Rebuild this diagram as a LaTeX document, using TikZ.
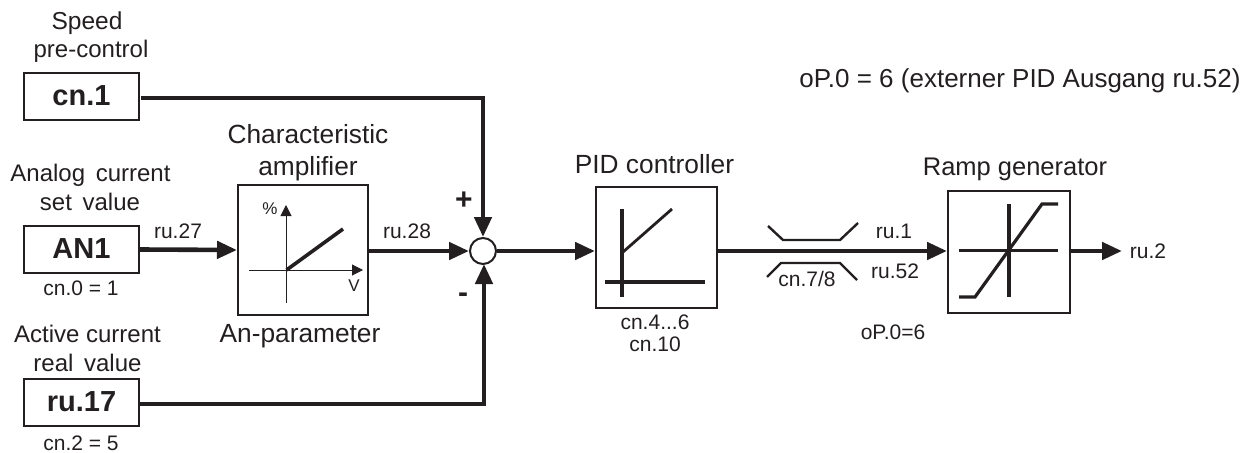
\documentclass[tikz,border=0pt]{standalone}
\usepackage{fontspec}
\setmainfont{Liberation Sans}
\usetikzlibrary{arrows.meta,calc}
\definecolor{ink}{HTML}{231F20}
\tikzset{
  lbl/.style={anchor=base,inner sep=0pt,text=ink,font=\fontsize{#1}{#1}\selectfont},
  lbl/.default=21,
  bold/.style={anchor=base,inner sep=0pt,text=ink,font=\fontsize{#1}{#1}\selectfont\bfseries},
  srcbox/.style={draw=ink,line width=2pt,minimum width=115pt,minimum height=47pt,inner sep=0pt,text=ink,font=\fontsize{29}{29}\selectfont\bfseries},
  fnbox/.style={draw=ink,line width=2pt,minimum size=#1,inner sep=0pt},
  sumnode/.style={draw=ink,line width=2pt,fill=white,circle,minimum size=26pt,inner sep=0pt},
  sig/.style={draw=ink,line width=4.6pt},
  sigarrow/.style={sig,-{Triangle[length=20pt,width=17pt]}},
  thinline/.style={draw=ink,line width=1pt},
  thinarrow/.style={thinline,-{Triangle[length=11pt,width=11pt]}},
  curve/.style={draw=ink,line width=#1,line join=miter},
}
\begin{document}
\begin{tikzpicture}[x=1pt,y=-1pt]
\useasboundingbox (0,0) rectangle (1246,452);
% source boxes
\node[srcbox] (cn1) at (81.5,96) {\raisebox{1pt}{cn.1}};
\node[srcbox] (an1) at (81.5,249.5) {\raisebox{2pt}{AN1}};
\node[srcbox] (ru17) at (81.5,402) {\raisebox{1.5pt}{ru.17}};
% function blocks
\node[fnbox=130pt] (amp) at (303,250) {};
\node[fnbox=121pt] (pid) at (656.5,247.5) {};
\node[fnbox=122pt] (ramp) at (1009,251.5) {};
\node[sumnode] (sum) at (483,251) {};
% coordinates
\coordinate (topcorner) at (483,98);
\coordinate (botcorner) at (484,404);
\coordinate (botend) at (484,264);
\coordinate (ru2end) at (1122,251);
\coordinate (cn1out) at (141,98);
\coordinate (ruout) at (139,404);
\coordinate (amp-a) at (286,303);
\coordinate (amp-b) at (286,205);
\coordinate (amp-c) at (249,270);
\coordinate (amp-d) at (363,270);
\coordinate (amp-e) at (286.5,270);
\coordinate (amp-f) at (343,229);
% connectors
\draw[sig,line cap=butt] (cn1out) -- ([xshift=2.3pt]topcorner);
\draw[sigarrow] (topcorner) -- (sum.north);
\draw[sig] (ruout) -- ([xshift=2.3pt]botcorner);
\draw[sigarrow] (botcorner) -- (botend);
\draw[sigarrow] (an1.east) -- (amp.west);
\draw[sigarrow] (amp.east |- sum.west) -- (sum.west);
\draw[sigarrow] (sum.east) -- (pid.west |- sum.east);
\draw[sigarrow] (pid.east |- sum.east) -- (ramp.west |- sum.east);
\draw[sigarrow] (ramp.east |- sum.east) -- (ru2end);
% amplifier curve
\draw[thinarrow] (amp-a) -- (amp-b);
\draw[thinarrow] (amp-c) -- (amp-d);
\draw[curve=3.6pt] (amp-e) -- (amp-f);
% PID curve
\draw[curve=3.6pt] (622,209) -- (622,297);
\draw[curve=3.6pt] (605,282) -- (705,282);
\draw[curve=2.8pt] (623,252) -- (672,209);
% limiter symbol
\draw[curve=2.4pt] (768,226) -- (783,240) -- (840,240) -- (858,223);
\draw[curve=2.4pt] (767,277) -- (781,263) -- (840,263) -- (857,280);
% ramp curve
\draw[curve=3.4pt] (1009,204) -- (1009,297);
\draw[curve=2.8pt] (959,250.5) -- (1058,250.5);
\draw[curve=3.2pt] (959,297) -- (975,297) -- (1042,204) -- (1058,204);
% labels
\node[lbl=24.5] (t1) at (87,30) {Speed};
\node[lbl=24] (t2) at (91,58) {pre-control};
\node[lbl=26.3] (t3) at (308,143) {Characteristic};
\node[lbl=26.3] (t4) at (308,175) {amplifier};
\node[lbl=24] (t5) at (90.5,181) {Analog\, current};
\node[lbl=24] (t6) at (90,210) {set\, value};
\node[lbl=21] (t7) at (81,295) {cn.0 = 1};
\node[lbl=24] (t8) at (87.5,342) {Active current};
\node[lbl=24] (t9) at (87.5,371) {real\, value};
\node[lbl=21] (t10) at (81,450) {cn.2 = 5};
\node[lbl=26.3] (t11) at (300,342) {An-parameter};
\node[lbl=21] (t12) at (178,238) {ru.27};
\node[lbl=21] (t13) at (407,238) {ru.28};
\node[bold=30] (t14) at (464,209) {+};
\node[bold=30] (t15) at (463,302) {-};
\node[lbl=26.3] (t16) at (654.5,173) {PID controller};
\node[lbl=21] (t17) at (655,329) {cn.4...6};
\node[lbl=21] (t18) at (655,351) {cn.10};
\node[lbl=21] (t19) at (894,238) {ru.1};
\node[lbl=21] (t20) at (895,278) {ru.52};
\node[lbl=21] (t21) at (807,286) {cn.7/8};
\node[lbl=21] (t22) at (893,339) {oP.0=6};
\node[lbl=25.5] (t23) at (1015,175) {Ramp generator};
\node[lbl=21] (t24) at (1148,258) {ru.2};
\node[lbl=26] (t25) at (1020,87) {oP.0 = 6 (externer PID Ausgang ru.52)};
\node[lbl=17] (t26) at (270,214) {\%};
\node[lbl=17] (t27) at (354,291) {V};
\end{tikzpicture}
\end{document}
